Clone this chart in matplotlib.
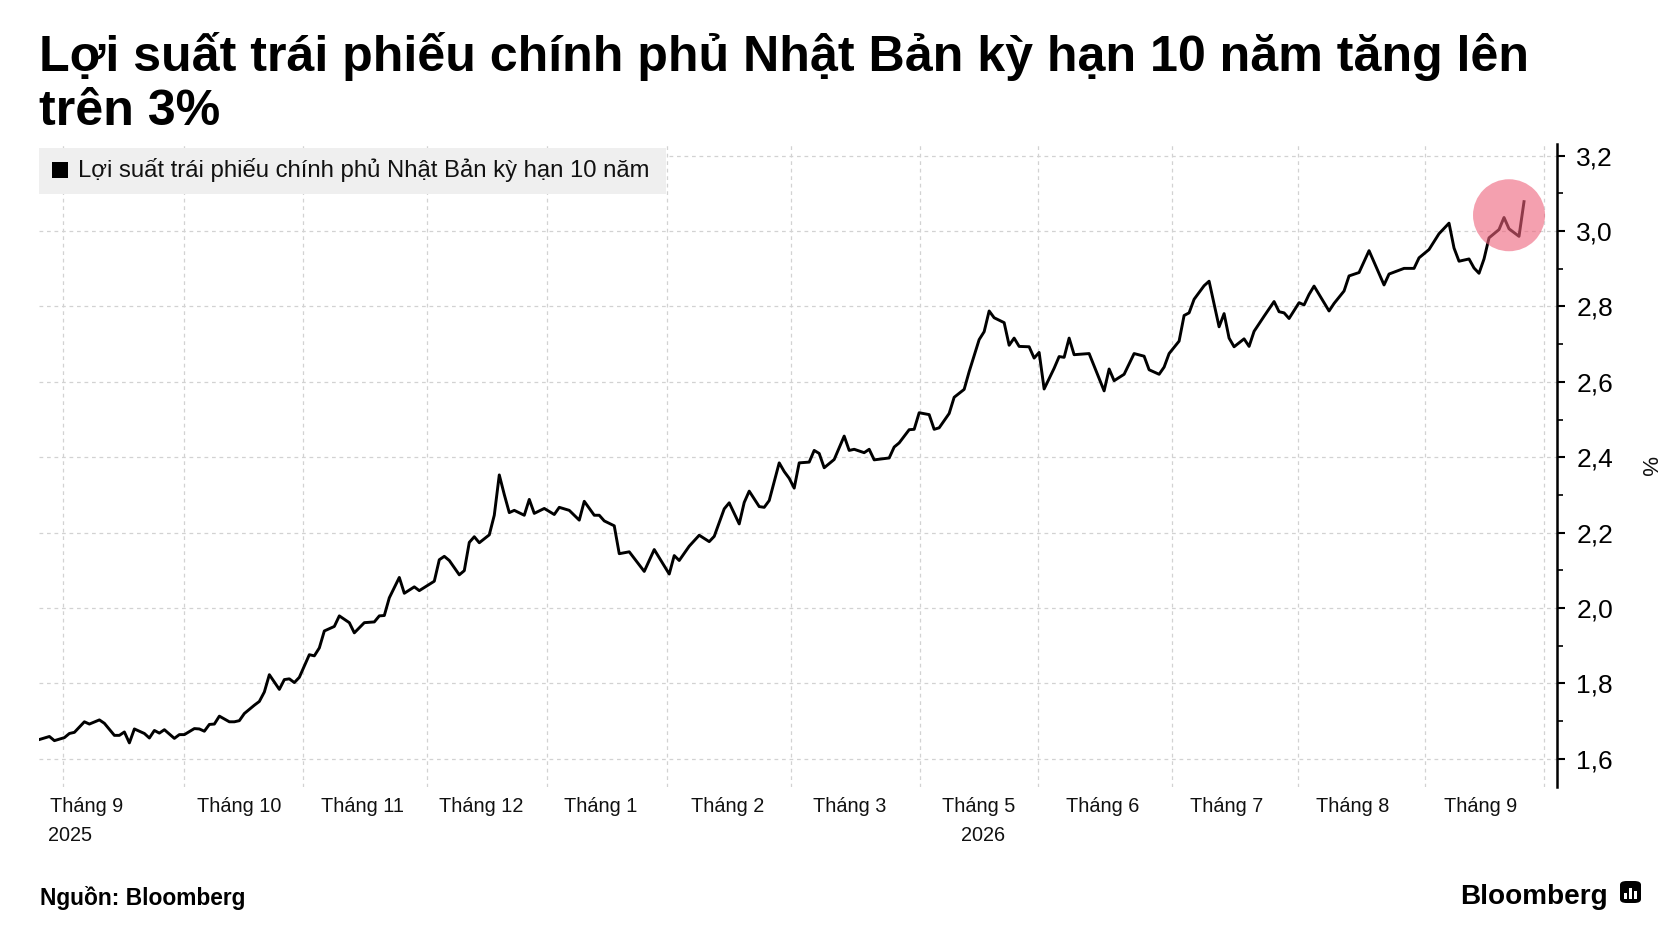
import matplotlib
matplotlib.use('Agg')
import matplotlib.pyplot as plt
import matplotlib.transforms as mtransforms
from matplotlib.patches import Rectangle, FancyBboxPatch
from matplotlib.ticker import MultipleLocator, FuncFormatter

# ---------------- data ----------------
sessions = [0, 2, 3, 5, 6, 7, 9, 10, 12, 13, 15, 16, 17, 18, 19, 21, 22, 23, 24, 25,
            27, 28, 29, 31, 32, 33, 34, 35, 36, 38, 39, 40, 41, 43, 44, 45, 46, 48, 49, 50,
            51, 52, 54, 55, 56, 57,
            59, 60, 62, 63, 65, 67, 68, 69, 70, 72, 73, 75, 76, 79, 80, 81, 82, 84, 85, 86,
            87, 88, 90, 91, 92, 93, 94, 95, 97, 98, 99, 101, 103, 104, 106, 108, 109, 111, 112, 113,
            115, 116,
            118, 121, 123, 126, 127, 128, 130, 132, 134, 135, 137, 138, 140, 141, 142, 144, 145, 146,
            148, 149, 150, 151, 152, 154, 155, 156, 157, 159, 161, 162, 163, 165, 166, 167, 170, 171, 172,
            174, 175, 176, 178, 179, 180, 182, 183, 185, 186, 188, 189, 190, 191, 193, 194, 195, 196,
            198, 199, 200, 201, 203, 204, 205, 206, 207, 210, 213, 214, 215, 217, 219, 221, 222, 224,
            225, 226, 228, 229, 230, 231, 233, 234,
            236, 237, 238, 239, 241, 242, 243, 245, 247, 248, 249, 250, 252, 253, 254, 255, 258, 259,
            261, 262, 264, 266, 269, 270, 273, 275, 276, 278, 280, 282, 283, 284, 286, 287, 288, 289,
            290, 292, 293, 294, 296, 297]

yields = [1.651, 1.659, 1.648, 1.656, 1.667, 1.670, 1.698, 1.692, 1.703, 1.694, 1.662, 1.662, 1.671, 1.642, 1.679, 1.667, 1.655, 1.675, 1.668, 1.677,
          1.654, 1.664, 1.664, 1.680, 1.679, 1.673, 1.691, 1.692, 1.713, 1.698, 1.698, 1.701, 1.720, 1.742, 1.752, 1.777, 1.823, 1.784, 1.810, 1.812,
          1.802, 1.816, 1.876, 1.873, 1.894, 1.939,
          1.951, 1.979, 1.961, 1.934, 1.961, 1.963, 1.979, 1.980, 2.027, 2.081, 2.039, 2.056, 2.046, 2.071, 2.128, 2.137, 2.126, 2.088, 2.099, 2.174,
          2.189, 2.173, 2.194, 2.246, 2.353, 2.301, 2.253, 2.259, 2.246, 2.288, 2.251, 2.264, 2.248, 2.267, 2.259, 2.233, 2.283, 2.246, 2.246, 2.231,
          2.218, 2.144,
          2.149, 2.097, 2.155, 2.090, 2.139, 2.126, 2.164, 2.193, 2.176, 2.190, 2.263, 2.279, 2.223, 2.280, 2.310, 2.269, 2.267, 2.285,
          2.385, 2.362, 2.344, 2.318, 2.385, 2.387, 2.418, 2.410, 2.372, 2.394, 2.456, 2.418, 2.421, 2.412, 2.421, 2.393, 2.398, 2.427, 2.438,
          2.473, 2.474, 2.518, 2.513, 2.474, 2.478, 2.516, 2.559, 2.580, 2.627, 2.712, 2.733, 2.788, 2.770, 2.757, 2.697, 2.716, 2.694,
          2.693, 2.663, 2.678, 2.581, 2.636, 2.667, 2.665, 2.716, 2.672, 2.675, 2.576, 2.634, 2.603, 2.620, 2.675, 2.668, 2.632, 2.620,
          2.639, 2.675, 2.708, 2.776, 2.783, 2.819, 2.855, 2.867,
          2.746, 2.781, 2.716, 2.693, 2.714, 2.694, 2.734, 2.774, 2.813, 2.786, 2.783, 2.768, 2.810, 2.804, 2.832, 2.854, 2.788, 2.808,
          2.841, 2.881, 2.890, 2.948, 2.857, 2.886, 2.901, 2.901, 2.929, 2.951, 2.993, 3.021, 2.955, 2.920, 2.926, 2.902, 2.888, 2.926,
          2.982, 3.004, 3.036, 3.006, 2.986, 3.078]

month_starts = [4.7, 29.0, 52.7, 77.5, 101.5, 125.5, 150.4, 176.1, 199.7, 226.5, 251.7, 277.2, 301.0]
month_label_pos = [9.5, 40.0, 64.7, 88.3, 112.2, 137.7, 162.2, 187.8, 212.8, 237.6, 262.7, 288.3]
month_labels = ['Tháng 9', 'Tháng 10', 'Tháng 11', 'Tháng 12', 'Tháng 1', 'Tháng 2',
                'Tháng 3', 'Tháng 5', 'Tháng 6', 'Tháng 7', 'Tháng 8', 'Tháng 9']
year_labels = ['2025', '2026']
year_label_pos = [1.8, 188.7]
year_label_ha = ['left', 'center']

title_lines = ['Lợi suất trái phiếu chính phủ Nhật Bản kỳ hạn 10 năm tăng lên', 'trên 3%']
series_name = 'Lợi suất trái phiếu chính phủ Nhật Bản kỳ hạn 10 năm'
source_text = 'Nguồn: Bloomberg'

assert len(sessions) == len(yields)

# ---------------- figure ----------------
W, H = 1671, 941
FAM = ['Liberation Sans', 'DejaVu Sans']
plt.rcParams['font.family'] = FAM
fig = plt.figure(figsize=(W / 100, H / 100), dpi=100)
fig.patch.set_facecolor('white')


def fx(x):
    return x / W


def fy(y):
    return 1 - y / H


renderer = fig.canvas.get_renderer()


def fit_width(t, target):
    w = t.get_window_extent(renderer=renderer).width
    t.set_fontsize(t.get_fontsize() * target / w)


ax = fig.add_axes([fx(39.4), fy(787), fx(1557) - fx(39.4), fy(144) - fy(787)])
ax.plot(sessions, yields, color='black', lw=2.1, zorder=3)

ax.set_xlim(0, 303.6)
ax.set_ylim(1.525, 3.231)

for s in ['top', 'left', 'bottom']:
    ax.spines[s].set_visible(False)
ax.spines['right'].set_linewidth(1.8)
ax.spines['right'].set_color('black')

ax.yaxis.tick_right()
ax.yaxis.set_major_locator(MultipleLocator(0.2))
ax.yaxis.set_minor_locator(MultipleLocator(0.1))
ax.yaxis.set_major_formatter(FuncFormatter(lambda v, p: f'{v:.1f}'.replace('.', ',')))
ax.tick_params(axis='y', which='major', direction='out', length=6, width=1.5,
               labelsize=19, pad=8, colors='black')
ax.tick_params(axis='y', which='minor', direction='out', length=4, width=1.2, colors='black')

ax.set_xticks(month_label_pos)
ax.set_xticklabels(month_labels)
ax.set_xticks(month_starts, minor=True)
ax.tick_params(axis='x', which='both', length=0, labelsize=14.3, pad=7, colors='#111111')

grid_kw = dict(linestyle=(0, (3, 3)), color='#d2d2d2', linewidth=0.9)
ax.grid(which='minor', axis='x', **grid_kw)
ax.grid(which='major', axis='y', **grid_kw)
ax.grid(which='major', axis='x', visible=False)
ax.set_axisbelow(True)

trans = mtransforms.blended_transform_factory(ax.transData, ax.transAxes)
for lab, pos, ha in zip(year_labels, year_label_pos, year_label_ha):
    ax.text(pos, -0.0754, lab, transform=trans, ha=ha, va='center', fontsize=14.3, color='#111111')

# highlight circle around latest readings
cx = sessions[-3]
cy = (max(yields[-6:]) + yields[-3]) / 2
ax.scatter([cx], [cy], s=(72 * 0.72) ** 2, color='#ee617a', alpha=0.6,
           edgecolors='none', zorder=4)

ax.text(1.059, 0.5, '%', transform=ax.transAxes, rotation=270, ha='center',
        va='center', fontsize=16, color='#111111')

# legend box
fig.add_artist(Rectangle((fx(39.4), fy(194)), fx(666) - fx(39.4), fy(148) - fy(194),
                         transform=fig.transFigure, facecolor='#efefef', edgecolor='none', zorder=5))
fig.add_artist(Rectangle((fx(52), fy(178)), fx(68) - fx(52), fy(162) - fy(178),
                         transform=fig.transFigure, facecolor='black', edgecolor='none', zorder=6))
leg = fig.text(fx(77.8), fy(170), series_name, ha='left', va='center', fontsize=15,
               color='#111111', zorder=6)
fit_width(leg, 574)

# title
t1 = fig.text(fx(39.4), fy(71.4), title_lines[0], ha='left', va='baseline',
              fontsize=36, fontweight='bold', color='black')
fit_width(t1, 1492)
fig.text(fx(39.4), fy(124.7), title_lines[1], ha='left', va='baseline',
         fontsize=t1.get_fontsize(), fontweight='bold', color='black')

# footer
src = fig.text(fx(40.5), fy(905), source_text, ha='left', va='baseline',
               fontsize=16, fontweight='bold', color='black')
fit_width(src, 206)
bb = fig.text(fx(1460), fy(904.5), 'Bloomberg', ha='left', va='baseline',
              fontsize=22, fontweight='bold', color='black')
fit_width(bb, 147)

# small logo icon
fig.add_artist(FancyBboxPatch((fx(1620), fy(903)), fx(1641) - fx(1620), fy(881) - fy(903),
                              boxstyle='round,pad=0,rounding_size=0.004',
                              transform=fig.transFigure, facecolor='black', edgecolor='none'))
for bx, top in [(1624, 893), (1629, 888), (1634, 891)]:
    fig.add_artist(Rectangle((fx(bx), fy(899)), fx(bx + 3) - fx(bx), fy(top) - fy(899),
                             transform=fig.transFigure, facecolor='white', edgecolor='none'))

fig.savefig('out.png', dpi=100, facecolor='white')
